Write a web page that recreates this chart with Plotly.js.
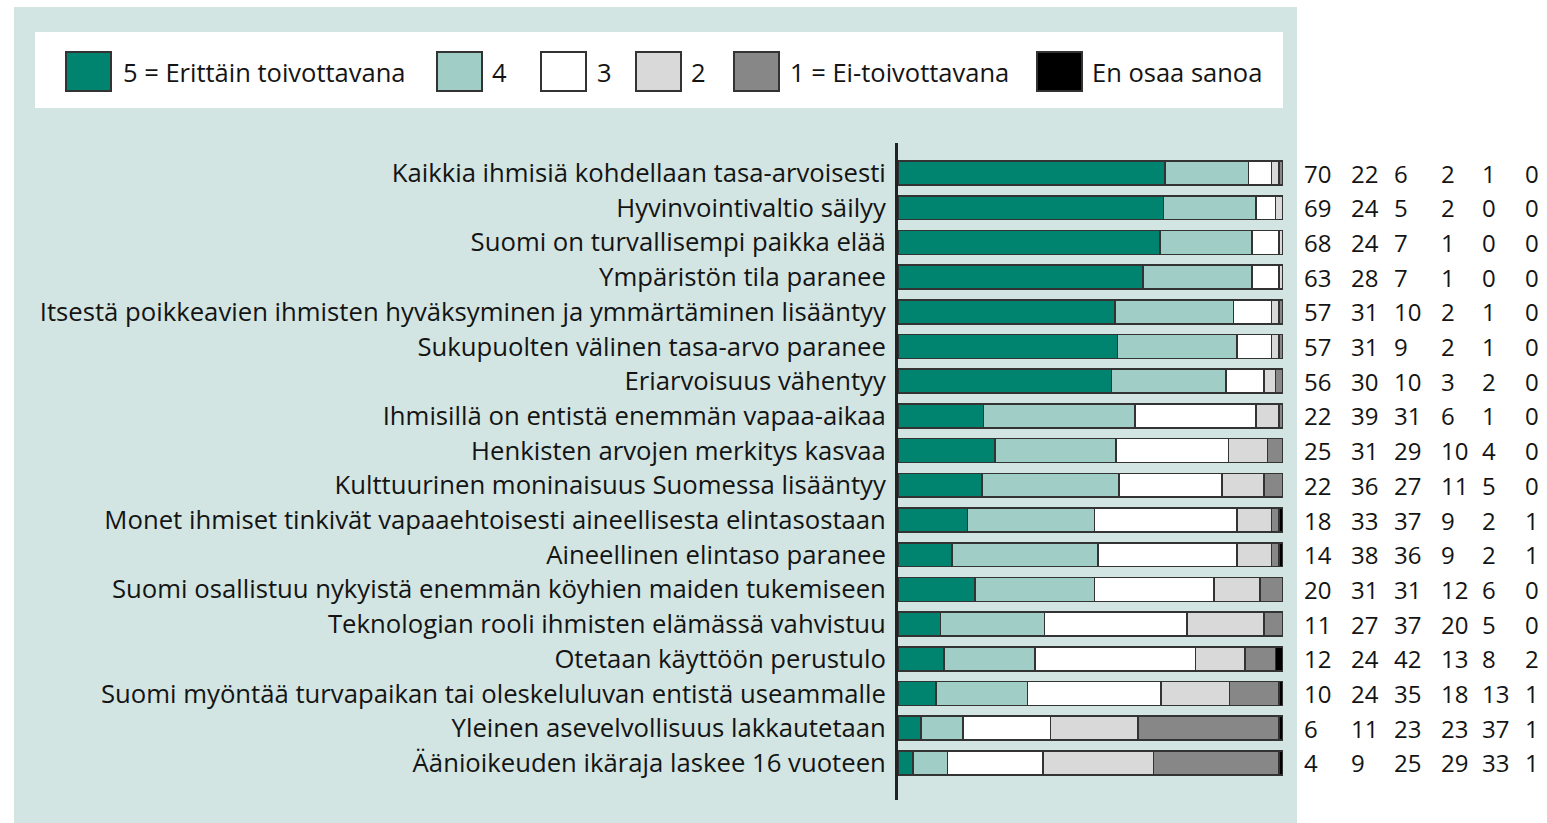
<!DOCTYPE html>
<html>
<head>
<meta charset="utf-8">
<script src="https://cdn.plot.ly/plotly-3.0.1.min.js"></script>
<style>html,body{margin:0;padding:0;background:#fff;}#chart{width:1547px;height:823px;}</style>
</head>
<body>
<div id="chart"></div>
<script>
const categories = [
  "Kaikkia ihmisiä kohdellaan tasa-arvoisesti",
  "Hyvinvointivaltio säilyy",
  "Suomi on turvallisempi paikka elää",
  "Ympäristön tila paranee",
  "Itsestä poikkeavien ihmisten hyväksyminen ja ymmärtäminen lisääntyy",
  "Sukupuolten välinen tasa-arvo paranee",
  "Eriarvoisuus vähentyy",
  "Ihmisillä on entistä enemmän vapaa-aikaa",
  "Henkisten arvojen merkitys kasvaa",
  "Kulttuurinen moninaisuus Suomessa lisääntyy",
  "Monet ihmiset tinkivät vapaaehtoisesti aineellisesta elintasostaan",
  "Aineellinen elintaso paranee",
  "Suomi osallistuu nykyistä enemmän köyhien maiden tukemiseen",
  "Teknologian rooli ihmisten elämässä vahvistuu",
  "Otetaan käyttöön perustulo",
  "Suomi myöntää turvapaikan tai oleskeluluvan entistä useammalle",
  "Yleinen asevelvollisuus lakkautetaan",
  "Äänioikeuden ikäraja laskee 16 vuoteen"
];
const v5 = [70,69,68,63,57,57,56,22,25,22,18,14,20,11,12,10,6,4];
const v4 = [22,24,24,28,31,31,30,39,31,36,33,38,31,27,24,24,11,9];
const v3 = [6,5,7,7,10,9,10,31,29,27,37,36,31,37,42,35,23,25];
const v2 = [2,2,1,1,2,2,3,6,10,11,9,9,12,20,13,18,23,29];
const v1 = [1,0,0,0,1,1,2,1,4,5,2,2,6,5,8,13,37,33];
const v0 = [0,0,0,0,0,0,0,0,0,0,1,1,0,0,2,1,1,1];
const seriesNames = ["5 = Erittäin toivottavana","4","3","2","1 = Ei-toivottavana","En osaa sanoa"];
const seriesValues = [v5,v4,v3,v2,v1,v0];
const colors = ["#00846f","#a0cdc5","#ffffff","#d9d9d9","#878787","#000000"];

// pixel layout helpers
const W = 1547, H = 823;
const L = 898, R = 1283, T = 143, B = 800;
const pw = R - L, ph = B - T;
const xp = px => (px - L) / pw;
const yp = py => (B - py) / ph;

const FONT = "Open Sans, Noto Sans, sans-serif";
const TXT = "#141414";

const traces = seriesValues.map((vals, k) => ({
  type: "bar",
  orientation: "h",
  name: seriesNames[k],
  x: vals,
  y: categories,
  marker: {color: colors[k], line: {color: "#333333", width: 1.6}},
  hoverinfo: "x+y+name",
  showlegend: false
}));

const shapes = [];
const annotations = [];

// panel background
shapes.push({type:"rect", xref:"paper", yref:"paper", layer:"below",
  x0: xp(14), x1: xp(1297), y0: yp(823), y1: yp(7),
  fillcolor:"#d2e5e2", line:{width:0}});
// legend box
shapes.push({type:"rect", xref:"paper", yref:"paper", layer:"below",
  x0: xp(35), x1: xp(1283), y0: yp(108), y1: yp(32),
  fillcolor:"#ffffff", line:{width:0}});

const swatchX = [66, 437, 541, 636, 734, 1037];
const textX = [121, 490, 595, 689, 788, 1090];
seriesNames.forEach((n, k) => {
  shapes.push({type:"rect", xref:"paper", yref:"paper", layer:"above",
    x0: xp(swatchX[k]), x1: xp(swatchX[k] + 45), y0: yp(91), y1: yp(52),
    fillcolor: colors[k], line:{color:"#333333", width:2}});
  annotations.push({xref:"paper", yref:"paper", x: xp(textX[k]), y: yp(72),
    xanchor:"left", yanchor:"middle", showarrow:false, text: n,
    font:{family:FONT, size:25.5, color:TXT}});
});

// number columns
const colX = [1302, 1349, 1392, 1439, 1480, 1523];
seriesValues.forEach((vals, k) => {
  vals.forEach((v, i) => {
    annotations.push({xref:"paper", yref:"y", x: xp(colX[k]), y: categories[i],
      xanchor:"left", yanchor:"middle", showarrow:false, text: String(v),
      font:{family:FONT, size:24, color:TXT}});
  });
});

const rowTop = 173, rowStep = 34.7;
const layout = {
  width: W, height: H,
  margin: {l: L, r: W - R, t: T, b: H - B, pad: 0},
  paper_bgcolor: "#ffffff",
  plot_bgcolor: "rgba(0,0,0,0)",
  barmode: "stack",
  barnorm: "percent",
  bargap: 0.31,
  showlegend: false,
  xaxis: {range: [0, 100], visible: false, fixedrange: true},
  yaxis: {
    type: "category",
    range: [(B - rowTop) / rowStep, (T - rowTop) / rowStep],
    showline: true, linecolor: "#222222", linewidth: 3,
    showgrid: false, zeroline: false, ticks: "",
    ticklabelstandoff: 4,
    tickfont: {family: FONT, size: 25.7, color: TXT}
  },
  shapes: shapes,
  annotations: annotations,
  font: {family: FONT}
};

Plotly.newPlot("chart", traces, layout, {displayModeBar: false, staticPlot: false});
</script>
</body>
</html>
